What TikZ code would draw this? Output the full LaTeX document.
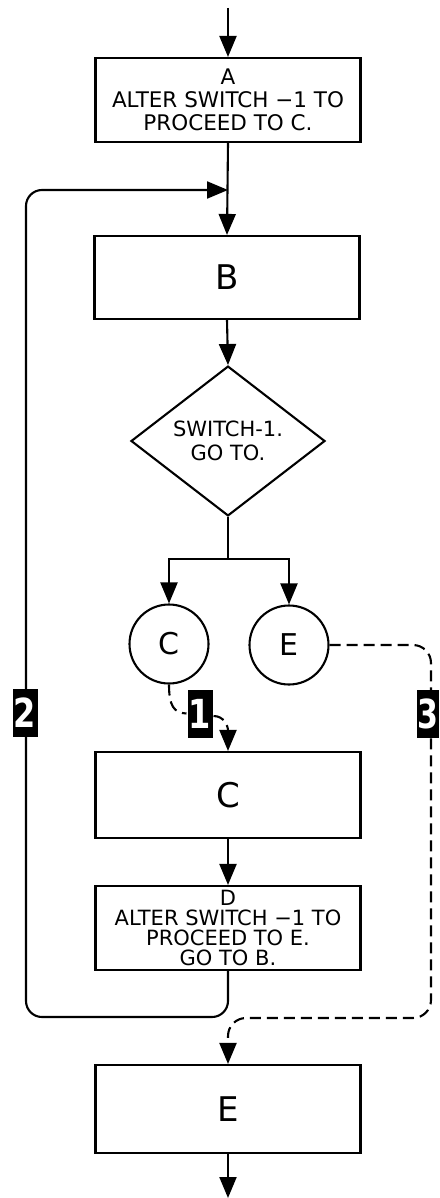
\documentclass[tikz,border=0pt]{standalone}
\usepackage{fontspec}
\setmainfont{DejaVu Sans}
\usetikzlibrary{arrows.meta,shapes.geometric}
\begin{document}
\begin{tikzpicture}[x=1pt,y=-1pt,
  line width=2.1pt,
  box/.style={draw, rectangle, minimum width=265pt, inner sep=0pt, align=center},
  conn/.style={draw, circle, minimum size=79pt, inner sep=0pt, font=\fontsize{30}{30}\selectfont},
  arr/.style={-{Triangle[length=21pt,width=17pt]}},
  dsh/.style={dash pattern=on 11pt off 6pt},
  tag/.style={fill=black, minimum width=25pt, minimum height=48pt, inner sep=0pt, text=white, font=\bfseries\fontsize{40}{40}\selectfont},
  small/.style={font=\fontsize{21.5}{23}\selectfont},
  tiny/.style={font=\fontsize{21}{20}\selectfont},
  big/.style={font=\fontsize{34}{34}\selectfont}]
\useasboundingbox (0,0) rectangle (439,1198);
% nodes
\coordinate (in) at (228,8);
\node[box, small, minimum height=84pt] (A) at (228,100) {A\\ALTER SWITCH −1 TO\\PROCEED TO C.};
\coordinate (jB) at (228,190);
\node[box, big, minimum height=83pt] (B) at (227,277.5) {B};
\node[draw, diamond, minimum width=194pt, minimum height=144pt, inner sep=0pt, align=center, font=\fontsize{21}{24}\selectfont] (S) at (228,441) {SWITCH-1.\\GO TO.};
\coordinate (split) at (228,559);
\node[conn] (cC) at (169,644) {C};
\node[conn] (cE) at (289,645) {E};
\node[box, big, minimum height=86pt] (C) at (228,795) {C};
\node[box, tiny, minimum height=84pt] (D) at (228,928) {D\\ALTER SWITCH −1 TO\\PROCEED TO E.\\GO TO B.};
\node[box, big, minimum height=88pt] (E) at (228,1109) {E};
\coordinate (out) at (228,1198);
% connectors
\draw[arr] (in) -- (A.north);
\draw[arr] (A.south) -- (B.north);
\draw[arr] (B.south) -- (S.north);
\draw (S.south) -- (split);
\draw[arr] (split) -| (cC.north);
\draw[arr] (split) -| (cE.north);
\draw[arr] (C.south) -- (D.north);
\draw[arr] (E.south) -- (out);
% loop 2
\draw[arr, rounded corners=16pt] (D.south) |- (26,1017) |- (jB);
% dashed 1
\node[tag] (t1) at (200,713.5) {\scalebox{0.8}[1]{1}};
\draw[dsh] (cC.south) .. controls (169,706) and (174,713) .. (t1.west);
\draw[dsh, arr] (t1.east |- 0,716) .. controls (224,716) and (228,726) .. (C.north);
% dashed 3
\draw[dsh, arr, rounded corners=18pt] (cE.east) -- (431,645) -- (431,1018) -- (228,1018) -- (E.north);
% tags
\node[tag] (t2) at (25,713) {\scalebox{0.8}[1]{2}};
\node[tag, minimum width=22pt] (t3) at (428,714) {\scalebox{0.75}[1]{3}};
\end{tikzpicture}
\end{document}
